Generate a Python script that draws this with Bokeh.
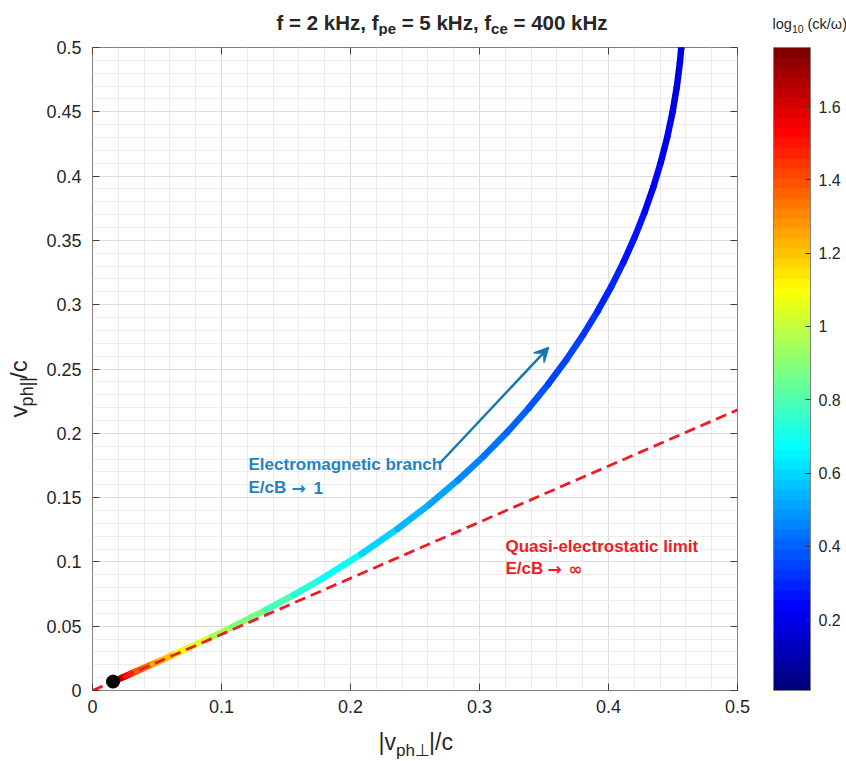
import numpy as np
from bokeh.plotting import figure
from bokeh.models import (ColumnDataSource, LinearColorMapper, ColorBar, FixedTicker,
                          LinearAxis, Label, Arrow, VeeHead, Range1d, Grid)
from bokeh.transform import linear_cmap
from bokeh.layouts import column, row
from bokeh.embed import file_html
from bokeh.resources import INLINE

# ---------------- data ----------------
# whistler-mode branch: |v_ph_perp|/c, v_ph_par/c and log10(ck/omega), from the dot upward
v_perp = [0.01589, 0.02549, 0.03009, 0.03406, 0.03928, 0.04669, 0.05308, 0.06401, 0.07333,
          0.09261, 0.10852, 0.13479, 0.15668, 0.17580, 0.20867, 0.23669, 0.26133, 0.28338,
          0.30334, 0.32152, 0.33814, 0.35336, 0.36729, 0.38004, 0.39168, 0.40225, 0.41181,
          0.42039, 0.42803, 0.43475, 0.44058, 0.44554, 0.44964, 0.45291, 0.45535, 0.45640,
          0.45783, 0.45789]
v_par = [0.00694, 0.01115, 0.01318, 0.01493, 0.01724, 0.02055, 0.02341, 0.02837, 0.03265,
         0.04172, 0.04945, 0.06285, 0.07473, 0.08575, 0.10632, 0.12585, 0.14486, 0.16361,
         0.18227, 0.20091, 0.21959, 0.23834, 0.25718, 0.27612, 0.29515, 0.31427, 0.33348,
         0.35275, 0.37208, 0.39145, 0.41085, 0.43025, 0.44964, 0.46900, 0.48830, 0.49980,
         0.52667, 0.54569]
log_ck_w = [1.761, 1.5557, 1.4834, 1.4296, 1.3675, 1.2923, 1.2365, 1.1548, 1.0955,
            0.9932, 0.9235, 0.8276, 0.7605, 0.7086, 0.6304, 0.5718, 0.5246, 0.4852,
            0.4511, 0.4212, 0.3945, 0.3704, 0.3484, 0.3281, 0.3094, 0.2920, 0.2758,
            0.2606, 0.2463, 0.2328, 0.2201, 0.2080, 0.1966, 0.1858, 0.1754, 0.1695,
            0.1562, 0.1473]
dot_perp = [0.01589]
dot_par = [0.00694]
# quasi-electrostatic limit (resonance cone)
qe_perp = [0.0, 0.5]
qe_par = [0.0, 0.2182]
cbar_low, cbar_high = 0.0067, 1.761

x_ticks = [0.0, 0.1, 0.2, 0.3, 0.4, 0.5]
x_tick_labels = ["0", "0.1", "0.2", "0.3", "0.4", "0.5"]
y_ticks = [0.0, 0.05, 0.1, 0.15, 0.2, 0.25, 0.3, 0.35, 0.4, 0.45, 0.5]
y_tick_labels = ["0", "0.05", "0.1", "0.15", "0.2", "0.25", "0.3", "0.35", "0.4", "0.45", "0.5"]
cb_ticks = [0.2, 0.4, 0.6, 0.8, 1.0, 1.2, 1.4, 1.6]
cb_tick_labels = ["0.2", "0.4", "0.6", "0.8", "1", "1.2", "1.4", "1.6"]

# ---------------- style ----------------
FONT = "Liberation Sans"
SYM = "DejaVu Sans"
TXT = "#262626"
BLUE_TXT = "#1f83c3"
ARROW_C = "#1677ad"
RED = "#ee1c24"


def jet(n=64):
    out = []
    for i in range(n):
        t = i / (n - 1)
        r = min(max(min(4 * t - 1.5, -4 * t + 4.5), 0), 1)
        g = min(max(min(4 * t - 0.5, -4 * t + 3.5), 0), 1)
        b = min(max(min(4 * t + 0.5, -4 * t + 2.5), 0), 1)
        out.append("#%02x%02x%02x" % (int(round(r * 255)), int(round(g * 255)), int(round(b * 255))))
    return out


palette = jet(64)
mapper = LinearColorMapper(palette=palette, low=cbar_low, high=cbar_high)

# page layout (pixels)
TOP_H = 36          # title strip
MAIN_TOP = 11       # space above the axes box inside the main figure
MAIN_BOTTOM = 34    # tick labels below the axes box
LEFT_W = 40         # y-label strip
BOTTOM_H = 37       # x-label strip
MAIN_H = MAIN_TOP + 643 + MAIN_BOTTOM

# ---------------- main plot ----------------
p = figure(frame_width=645, frame_height=643,
           x_range=Range1d(0, 0.5), y_range=Range1d(0, 0.5),
           x_axis_type=None, y_axis_type=None,
           output_backend="svg", toolbar_location=None,
           min_border=0, min_border_left=52, min_border_top=MAIN_TOP,
           min_border_right=109, min_border_bottom=MAIN_BOTTOM,
           background_fill_color="white", border_fill_color="white")
p.outline_line_color = "#7f7f7f"
p.outline_line_width = 1

x_minor = [round(v, 4) for v in np.arange(0, 0.5001, 0.02)]
y_minor = [round(v, 4) for v in np.arange(0, 0.5001, 0.01)]
xticker = FixedTicker(ticks=x_ticks, minor_ticks=x_minor)
yticker = FixedTicker(ticks=y_ticks, minor_ticks=y_minor)


def style_axis(ax, standoff):
    ax.axis_line_color = None
    ax.major_tick_in = 7
    ax.major_tick_out = 0
    ax.minor_tick_in = 0
    ax.minor_tick_out = 0
    ax.major_tick_line_color = "#404040"
    ax.major_tick_line_width = 1
    ax.major_label_text_font = FONT
    ax.major_label_text_color = TXT
    ax.major_label_text_font_size = "18px"
    ax.major_label_standoff = standoff


ax_b = LinearAxis(ticker=xticker, major_label_overrides=dict(zip(x_ticks, x_tick_labels)))
style_axis(ax_b, 9)
p.add_layout(ax_b, "below")
ax_l = LinearAxis(ticker=yticker, major_label_overrides=dict(zip(y_ticks, y_tick_labels)))
style_axis(ax_l, 11)
p.add_layout(ax_l, "left")
# box ticks on top and right (no labels)
ax_t = LinearAxis(ticker=xticker, major_label_overrides={t: "" for t in x_ticks})
style_axis(ax_t, 0)
ax_t.major_label_text_font_size = "1px"
p.add_layout(ax_t, "above")
ax_r = LinearAxis(ticker=yticker, major_label_overrides={t: "" for t in y_ticks})
style_axis(ax_r, 0)
ax_r.major_label_text_font_size = "1px"
p.add_layout(ax_r, "right")

for dim, tk in ((0, xticker), (1, yticker)):
    g = Grid(dimension=dim, ticker=tk)
    g.grid_line_color = "#dcdcdc"
    g.grid_line_width = 1
    g.minor_grid_line_color = "#ececec"
    g.minor_grid_line_width = 1
    p.add_layout(g, "center")

# curve as colour-coded segments
seg_xs = [[v_perp[i], v_perp[i + 1]] for i in range(len(v_perp) - 1)]
seg_ys = [[v_par[i], v_par[i + 1]] for i in range(len(v_par) - 1)]
seg_c = [(log_ck_w[i] + log_ck_w[i + 1]) / 2 for i in range(len(log_ck_w) - 1)]
seg_src = ColumnDataSource(dict(xs=seg_xs, ys=seg_ys, c=seg_c))
p.multi_line("xs", "ys", source=seg_src, line_width=6.5, line_cap="round", line_join="round",
             line_color=linear_cmap("c", palette, cbar_low, cbar_high))

p.line(qe_perp, qe_par, line_color=RED, line_width=2.8, line_dash="11 6")
p.scatter(dot_perp, dot_par, size=13, fill_color="black", line_color="black")

p.add_layout(Arrow(end=VeeHead(size=14, fill_color=ARROW_C, line_color=ARROW_C, line_width=1.5),
                   x_start=0.2698, y_start=0.1773, x_end=0.3535, y_end=0.2667,
                   line_color=ARROW_C, line_width=2.5))

cb = ColorBar(color_mapper=mapper, ticker=FixedTicker(ticks=cb_ticks),
              major_label_overrides=dict(zip(cb_ticks, cb_tick_labels)),
              width=37, height=643, padding=0, margin=0, location=(36, 0),
              label_standoff=8,
              major_label_text_font=FONT, major_label_text_font_size="16px",
              major_label_text_color=TXT,
              major_tick_in=5, major_tick_out=0, major_tick_line_color="#333333",
              minor_tick_line_color=None,
              bar_line_color="#808080", border_line_color=None, background_fill_alpha=0)
p.add_layout(cb, "right")


def lab_screen(fig, text, x, y, size, color=TXT, bold=False, font=FONT):
    fig.add_layout(Label(x=x, y=y, x_units="screen", y_units="screen", text=text,
                         text_font=font, text_font_size=f"{size}px", text_color=color,
                         text_font_style="bold" if bold else "normal",
                         text_align="left", text_baseline="alphabetic"))


# annotations inside the axes (frame-relative pixels)
lab_screen(p, "Electromagnetic branch", 156, 226, 17, BLUE_TXT, True)
lab_screen(p, "E/cB", 156, 203, 17, BLUE_TXT, True)
lab_screen(p, "\u2192", 199, 203, 17, BLUE_TXT, True, SYM)
lab_screen(p, "1", 221, 203, 17, BLUE_TXT, True)
lab_screen(p, "Quasi-electrostatic limit", 413, 144, 17, RED, True)
lab_screen(p, "E/cB", 413, 122, 17, RED, True)
lab_screen(p, "\u2192", 455, 122, 17, RED, True, SYM)
lab_screen(p, "\u221e", 476, 122, 17, RED, True, SYM)


# ---------------- text strips around the axes (page-pixel coordinates) ----------------
def text_fig(w, h, x0, x1, y0, y1):
    f = figure(width=w, height=h, x_range=Range1d(x0, x1), y_range=Range1d(y0, y1),
               x_axis_type=None, y_axis_type=None, min_border=0,
               output_backend="svg", toolbar_location=None,
               background_fill_color="white", border_fill_color="white")
    f.outline_line_color = None
    return f


def lab(fig, text, x, y, size, color=TXT, bold=False, angle=0.0, font=FONT, baseline="alphabetic"):
    fig.add_layout(Label(x=x, y=y, text=text, text_font=font, text_font_size=f"{size}px",
                         text_color=color, text_font_style="bold" if bold else "normal",
                         angle=angle, text_align="left", text_baseline=baseline))


top = text_fig(846, TOP_H, 0, 846, TOP_H, 0)
lab(top, "f = 2 kHz, f", 276, 22, 20.5, bold=True)
lab(top, "pe", 378, 28, 15, bold=True)
lab(top, "= 5 kHz, f", 401.2, 22, 20.5, bold=True)
lab(top, "ce", 490.6, 28, 15, bold=True)
lab(top, "= 400 kHz", 513, 22, 20.5, bold=True)
lab(top, "log", 772, 23, 14.5)
lab(top, "10", 791.5, 28, 10.5)
lab(top, "(ck/\u03c9)", 807, 23, 14.5)

# y label, rotated (anchor = top-left corner of each piece)
left = text_fig(LEFT_W, MAIN_H, 0, LEFT_W, TOP_H + MAIN_H, TOP_H)
lab(left, "v", 4.5, 432, 24, angle=np.pi / 2, baseline="top")
lab(left, "ph||", 16.5, 420, 18, angle=np.pi / 2, baseline="top")
lab(left, "/c", 4.5, 390.6, 24, angle=np.pi / 2, baseline="top")

y0_bottom = TOP_H + MAIN_H
bottom = text_fig(846, BOTTOM_H, 0, 846, y0_bottom + BOTTOM_H, y0_bottom)
lab(bottom, "|v", 378, 741, 23)
lab(bottom, "ph\u22a5", 395.5, 750, 17)
lab(bottom, "|/c", 428.6, 741, 23)

layout = column(top, row(left, p, spacing=0), bottom, spacing=0)
open("out.html", "w").write(file_html(layout, INLINE))
